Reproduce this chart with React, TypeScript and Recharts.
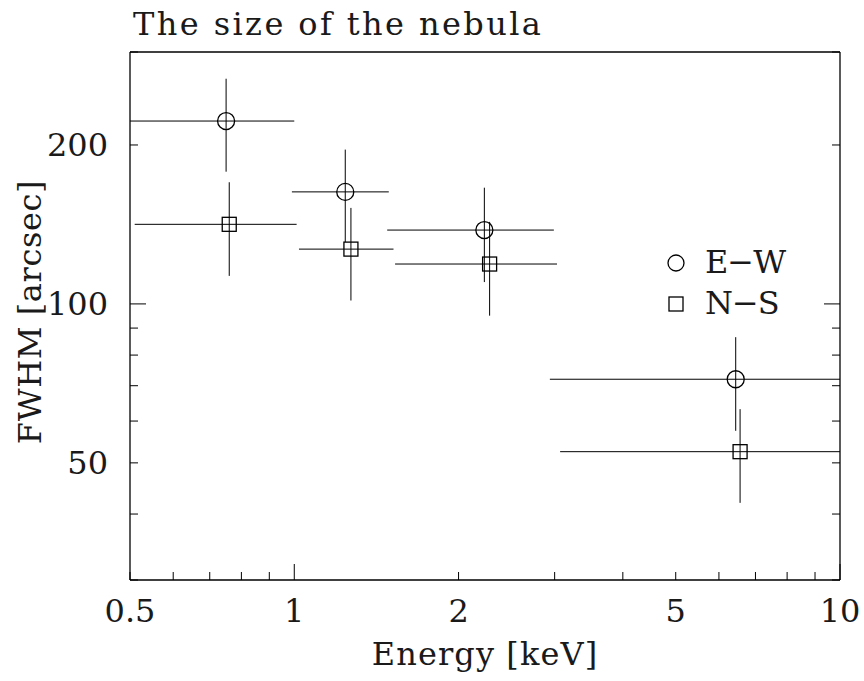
import { ErrorBar, Legend, Scatter, ScatterChart, XAxis, YAxis } from "recharts";

// E-W extent (circles)
const ewEnergy = [0.75, 1.24, 2.23, 6.44];
const ewEnergyLow = [0.5, 0.99, 1.48, 2.94];
const ewEnergyHigh = [1.0, 1.49, 2.99, 10];
const ewFwhm = [222, 163, 138, 72];
const ewFwhmLow = [178, 131, 110, 57.5];
const ewFwhmHigh = [267, 196, 166, 86.5];

// N-S extent (squares)
const nsEnergy = [0.76, 1.27, 2.28, 6.56];
const nsEnergyLow = [0.51, 1.02, 1.53, 3.07];
const nsEnergyHigh = [1.01, 1.52, 3.03, 10];
const nsFwhm = [141.5, 127, 119, 52.5];
const nsFwhmLow = [113, 101.5, 95, 42];
const nsFwhmHigh = [170, 152, 143, 63.2];

const xTicks = [0.5, 0.6, 0.7, 0.8, 0.9, 1, 2, 3, 4, 5, 6, 7, 8, 9, 10];
const xLabels = [0.5, 1, 2, 5, 10];
const xMajor = [1, 10];
const yTicks = [30, 40, 50, 60, 70, 80, 90, 100, 200, 300];
const yLabels = [50, 100, 200];
const yMajor = [100];

// only DejaVu Serif is available as a serif face here
const FONT = "'DejaVu Serif', serif";
const FS = 32;
const INK = "#1a1a1a";

const build = (
  e: number[],
  eLo: number[],
  eHi: number[],
  f: number[],
  fLo: number[],
  fHi: number[],
) =>
  e.map((v, i) => ({
    energy: v,
    fwhm: f[i],
    ex: [v - eLo[i], eHi[i] - v],
    ey: [f[i] - fLo[i], fHi[i] - f[i]],
  }));

const ewData = build(ewEnergy, ewEnergyLow, ewEnergyHigh, ewFwhm, ewFwhmLow, ewFwhmHigh);
const nsData = build(nsEnergy, nsEnergyLow, nsEnergyHigh, nsFwhm, nsFwhmLow, nsFwhmHigh);

const tickText = { fontFamily: FONT, fontSize: FS, fill: INK };

const BottomTick = ({ x, y, payload }: any) => {
  const v = payload.value;
  const len = xMajor.includes(v) ? 16 : 8;
  return (
    <g>
      <line x1={x} x2={x} y1={y} y2={y - len} stroke="#000" />
      {xLabels.includes(v) && (
        <text x={x} y={y + 42} textAnchor="middle" {...tickText}>
          {v}
        </text>
      )}
    </g>
  );
};

const TopTick = ({ x, y, payload }: any) => {
  const len = xMajor.includes(payload.value) ? 16 : 8;
  return <line x1={x} x2={x} y1={y} y2={y + len} stroke="#000" />;
};

const LeftTick = ({ x, y, payload }: any) => {
  const v = payload.value;
  const len = yMajor.includes(v) ? 16 : 8;
  return (
    <g>
      <line x1={x} x2={x + len} y1={y} y2={y} stroke="#000" />
      {yLabels.includes(v) && (
        <text x={x - 22} y={y} dy="0.36em" textAnchor="end" {...tickText}>
          {v}
        </text>
      )}
    </g>
  );
};

const RightTick = ({ x, y, payload }: any) => {
  const len = yMajor.includes(payload.value) ? 16 : 8;
  return <line x1={x} x2={x - len} y1={y} y2={y} stroke="#000" />;
};

const OpenCircle = ({ cx, cy }: any) => (
  <circle cx={cx} cy={cy} r={8.5} fill="none" stroke="#000" strokeWidth={1.3} />
);

const OpenSquare = ({ cx, cy }: any) => (
  <rect x={cx - 7} y={cy - 7} width={14} height={14} fill="none" stroke="#000" strokeWidth={1.3} />
);

const legendItems = [
  { name: "E−W", shape: "circle" },
  { name: "N−S", shape: "square" },
];

const renderLegend = () => (
  <div style={{ fontFamily: FONT, fontSize: FS, color: INK, letterSpacing: -1 }}>
    {legendItems.map((it) => (
      <div key={it.name} style={{ display: "flex", alignItems: "center", height: 41 }}>
        <svg width={20} height={20} style={{ marginRight: 19 }}>
          {it.shape === "circle" ? (
            <circle cx={10} cy={10} r={8} fill="none" stroke="#000" strokeWidth={1.3} />
          ) : (
            <rect x={3} y={3} width={14} height={14} fill="none" stroke="#000" strokeWidth={1.3} />
          )}
        </svg>
        <span style={{ lineHeight: "41px" }}>{it.name}</span>
      </div>
    ))}
  </div>
);

const axisLine = { stroke: "#000", strokeWidth: 1.3 };

const labelStyle = {
  position: "absolute" as const,
  fontFamily: FONT,
  fontSize: FS,
  lineHeight: `${FS}px`,
  color: INK,
  whiteSpace: "nowrap" as const,
};

export default function App() {
  return (
    <div
      style={{
        position: "absolute",
        left: 0,
        top: 0,
        width: 864,
        height: 681,
        background: "#fff",
      }}
    >
      <ScatterChart
        width={864}
        height={681}
        margin={{ top: 51, right: 23, bottom: 100, left: 129 }}
      >
        <XAxis
          dataKey="energy"
          type="number"
          scale="log"
          domain={[0.5, 10]}
          allowDataOverflow
          ticks={xTicks}
          interval={0}
          height={1}
          tickSize={0}
          tickMargin={0}
          tick={BottomTick}
          axisLine={axisLine}
        />
        <XAxis
          xAxisId="top"
          orientation="top"
          type="number"
          scale="log"
          domain={[0.5, 10]}
          allowDataOverflow
          ticks={xTicks}
          interval={0}
          height={1}
          tickSize={0}
          tickMargin={0}
          tick={TopTick}
          axisLine={axisLine}
        />
        <YAxis
          dataKey="fwhm"
          type="number"
          scale="log"
          domain={[30, 300]}
          allowDataOverflow
          ticks={yTicks}
          interval={0}
          width={1}
          tickSize={0}
          tickMargin={0}
          tick={LeftTick}
          axisLine={axisLine}
        />
        <YAxis
          yAxisId="right"
          orientation="right"
          type="number"
          scale="log"
          domain={[30, 300]}
          allowDataOverflow
          ticks={yTicks}
          interval={0}
          width={1}
          tickSize={0}
          tickMargin={0}
          tick={RightTick}
          axisLine={axisLine}
        />
        <Legend
          layout="vertical"
          align="center"
          verticalAlign="middle"
          content={renderLegend}
          wrapperStyle={{ left: 666, top: 242, width: 150 }}
        />
        <Scatter name="E−W" data={ewData} shape={OpenCircle} isAnimationActive={false}>
          <ErrorBar dataKey="ex" direction="x" width={0} stroke="#000" strokeWidth={1} />
          <ErrorBar dataKey="ey" direction="y" width={0} stroke="#000" strokeWidth={1} />
        </Scatter>
        <Scatter name="N−S" data={nsData} shape={OpenSquare} isAnimationActive={false}>
          <ErrorBar dataKey="ex" direction="x" width={0} stroke="#000" strokeWidth={1} />
          <ErrorBar dataKey="ey" direction="y" width={0} stroke="#000" strokeWidth={1} />
        </Scatter>
      </ScatterChart>
      <div style={{ ...labelStyle, left: 133, top: 8, letterSpacing: 2.4 }}>
        The size of the nebula
      </div>
      <div
        style={{
          ...labelStyle,
          left: 485,
          top: 638,
          letterSpacing: 1.1,
          transform: "translateX(-50%)",
        }}
      >
        Energy [keV]
      </div>
      <div
        style={{
          ...labelStyle,
          left: 30,
          top: 312,
          letterSpacing: 0.6,
          transform: "translate(-50%, -50%) rotate(-90deg)",
        }}
      >
        FWHM [arcsec]
      </div>
    </div>
  );
}
